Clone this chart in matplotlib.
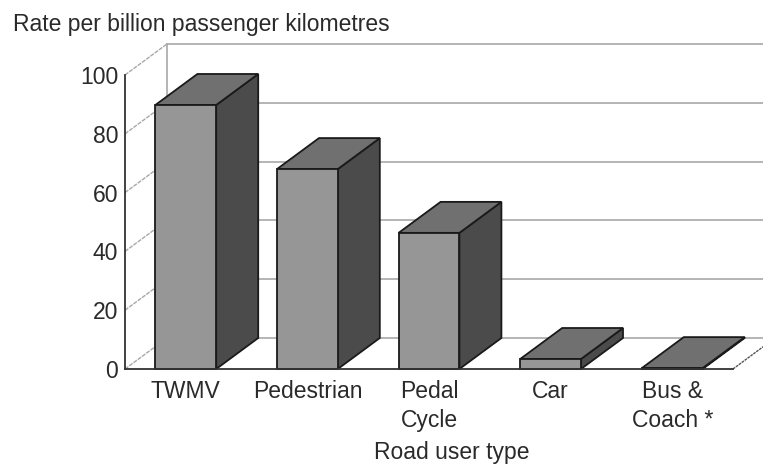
#!/usr/bin/env python
import matplotlib
matplotlib.use('Agg')
import matplotlib.pyplot as plt
from matplotlib.patches import Polygon

categories = ['TWMV', 'Pedestrian', 'Pedal\nCycle', 'Car', 'Bus &\nCoach *']
rates = [89.8, 68.0, 46.3, 3.4, 0.3]
y_ticks = [0, 20, 40, 60, 80, 100]

W, H = 763, 467
plt.rcParams['font.family'] = ['Liberation Sans', 'DejaVu Sans']
fig = plt.figure(figsize=(W / 100, H / 100), dpi=100)

# front plane of the fake 3d box, in pixels of the picture
ax = fig.add_axes([125 / W, 1 - 369 / H, 608 / W, 294 / H])
ax.set_xlim(0, 5)
ax.set_ylim(0, 100)
ax.patch.set_visible(False)

# depth of the box in data units
dx = 42 / 121.6
dy = 31 / 2.94
bar_w = 0.5
grid_c = '#a8a8a8'
edge_c = '#1a1a1a'
font_size = 16.5
text_c = '#2a2a2a'

# walls
for v in y_ticks:
    ax.plot([dx, 5 + dx], [v + dy, v + dy], color=grid_c, lw=1.2, clip_on=False, zorder=1)
    ax.plot([0, dx], [v, v + dy], color=grid_c, lw=1, ls=(0, (3, 0.8)), clip_on=False, zorder=1)
ax.plot([dx, dx], [dy, 100 + dy], color=grid_c, lw=1.2, clip_on=False, zorder=1)
ax.plot([5, 5 + dx], [0, dy], color='#555555', lw=1, ls=(0, (2, 0.6)), clip_on=False, zorder=1)

# bars, front face + top + side
for i, r in enumerate(rates):
    x0 = i + 0.5 - bar_w / 2
    x1 = x0 + bar_w
    top = [(x0, r), (x1, r), (x1 + dx, r + dy), (x0 + dx, r + dy)]
    side = [(x1, 0), (x1 + dx, dy), (x1 + dx, r + dy), (x1, r)]
    front = [(x0, 0), (x1, 0), (x1, r), (x0, r)]
    for pts, col in [(side, '#4b4b4b'), (top, '#707070'), (front, '#969696')]:
        ax.add_patch(Polygon(pts, closed=True, facecolor=col, edgecolor=edge_c, lw=1.3,
                             clip_on=False, zorder=3, joinstyle='miter'))

for s in ['top', 'right']:
    ax.spines[s].set_visible(False)
for s in ['left', 'bottom']:
    ax.spines[s].set_color('#333333')
    ax.spines[s].set_linewidth(1.3)
    ax.spines[s].set_zorder(4)

ax.set_xticks([i + 0.5 for i in range(len(categories))])
ax.set_xticklabels(categories, fontsize=font_size, linespacing=1.32)
ax.set_yticks(y_ticks)
ax.tick_params(axis='x', length=0, pad=8, colors=text_c)
ax.tick_params(axis='y', length=0, pad=5, labelsize=font_size, colors=text_c)
ax.set_xlabel('Road user type', fontsize=font_size, color=text_c, va='center')
ax.xaxis.set_label_coords(327 / 608, -83 / 294)

fig.text(13 / W, 1 - 25 / H, 'Rate per billion passenger kilometres', fontsize=font_size,
         color=text_c, ha='left', va='center')

fig.savefig('out.png', dpi=100)
